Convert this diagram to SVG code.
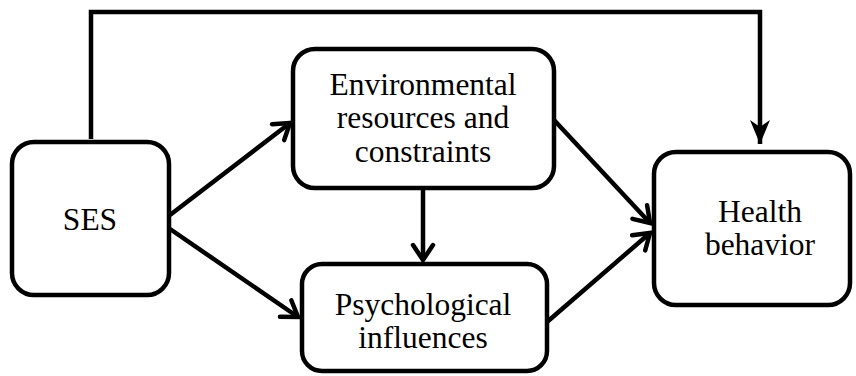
<svg xmlns="http://www.w3.org/2000/svg" width="856" height="376" viewBox="0 0 856 376">
  <style>
    .box { fill: #fff; stroke: #000; stroke-width: 4.5; }
    .lbl { font-family: 'Liberation Serif', 'Times New Roman', serif; font-size: 31.5px; fill: #000; text-anchor: middle; }
    .edge { fill: none; stroke: #000; stroke-width: 4.5; }
    .open { marker-end: url(#chevron); }
  </style>
  <defs>
    <marker id="chevron" markerUnits="userSpaceOnUse" markerWidth="40" markerHeight="40" viewBox="-20 -20 40 40" refX="0" refY="0" orient="auto" overflow="visible">
      <path d="M-15,-10 L0,0 L-15,10" fill="none" stroke="#000" stroke-width="4.5" stroke-linecap="round" stroke-linejoin="miter"/>
    </marker>
    <marker id="solid" markerUnits="userSpaceOnUse" markerWidth="40" markerHeight="40" viewBox="-30 -20 40 40" refX="0" refY="0" orient="auto" overflow="visible">
      <path d="M0,0 L-24,-10 L-17,0 L-24,10 Z" fill="#000"/>
    </marker>
  </defs>

  <g id="connectors">
    <path class="edge" d="M91,139 V12 H760 V144" marker-end="url(#solid)"/>
    <line class="edge open" x1="170" y1="215" x2="290" y2="123"/>
    <line class="edge open" x1="170" y1="229" x2="298" y2="317"/>
    <line class="edge open" x1="423" y1="190" x2="423" y2="260"/>
    <line class="edge open" x1="554" y1="120" x2="650" y2="223"/>
    <line class="edge open" x1="547" y1="322" x2="650" y2="233"/>
  </g>

  <g id="ses">
    <rect class="box" x="12" y="142" width="157" height="153" rx="22"/>
    <text class="lbl" x="90" y="230">SES</text>
  </g>

  <g id="environment">
    <rect class="box" x="293" y="49" width="261" height="139" rx="22"/>
    <text class="lbl" x="423" y="95">Environmental</text>
    <text class="lbl" x="423" y="128">resources and</text>
    <text class="lbl" x="423" y="162">constraints</text>
  </g>

  <g id="psychological">
    <rect class="box" x="302" y="264" width="245" height="107" rx="20"/>
    <text class="lbl" x="423" y="315">Psychological</text>
    <text class="lbl" x="423" y="348">influences</text>
  </g>

  <g id="health">
    <rect class="box" x="654" y="152" width="196" height="153" rx="22"/>
    <text class="lbl" x="760" y="222">Health</text>
    <text class="lbl" x="760" y="255">behavior</text>
  </g>
</svg>
